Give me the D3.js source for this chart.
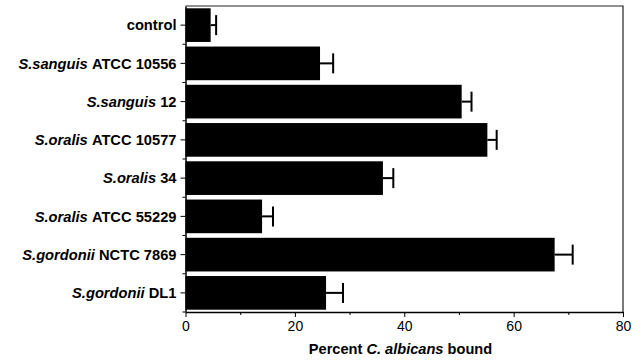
<!DOCTYPE html>
<html>
<head>
<meta charset="utf-8">
<style>
  body { margin: 0; background: #fff; }
  svg { display: block; font-family: "Liberation Sans", Arial, sans-serif; }
</style>
</head>
<body>
<svg width="642" height="360"></svg>
<script src="https://d3js.org/d3.v7.min.js"></script>
<script>

// species part (italic) and strain part (upright) of each label
var species = ["", "S.sanguis", "S.sanguis", "S.oralis", "S.oralis", "S.oralis", "S.gordonii", "S.gordonii"];
var strains = ["control", "ATCC 10556", "12", "ATCC 10577", "34", "ATCC 55229", "NCTC 7869", "DL1"];
var means = [4.6, 24.6, 50.5, 55.2, 36.1, 14.0, 67.5, 25.7];
var errTop = [5.6, 27.0, 52.3, 56.9, 38.0, 16.0, 70.8, 28.8];
var xTicks = [0, 20, 40, 60, 80];

var svg = d3.select("svg"),
    margin = {top: 6, right: 19, bottom: 48, left: 185.5},
    width = +svg.attr("width") - margin.left - margin.right,
    height = +svg.attr("height") - margin.top - margin.bottom;

var g = svg.append("g").attr("transform", "translate(" + margin.left + "," + margin.top + ")");

var x = d3.scaleLinear().domain([0, 80]).range([0, width]);
var y = d3.scaleBand().domain(d3.range(strains.length)).range([0, height]).paddingInner(0.12).paddingOuter(0.06);

// frame top/right
g.append("path")
    .attr("d", "M0,0H" + width + "V" + height)
    .attr("fill", "none")
    .attr("stroke", "#222")
    .attr("stroke-width", 1.2);

// bars
g.selectAll(".bar")
  .data(means)
  .enter().append("rect")
    .attr("class", "bar")
    .attr("x", 0)
    .attr("y", function(d, i) { return y(i); })
    .attr("width", function(d) { return x(d); })
    .attr("height", y.bandwidth())
    .attr("fill", "#000");

// error bars (upper side only)
var eb = g.selectAll(".err")
  .data(errTop)
  .enter().append("g")
    .attr("class", "err")
    .attr("stroke", "#000")
    .attr("stroke-width", 2);

eb.append("line")
    .attr("x1", function(d, i) { return x(means[i]); })
    .attr("x2", function(d) { return x(d); })
    .attr("y1", function(d, i) { return y(i) + y.bandwidth() / 2; })
    .attr("y2", function(d, i) { return y(i) + y.bandwidth() / 2; });

eb.append("line")
    .attr("x1", function(d) { return x(d); })
    .attr("x2", function(d) { return x(d); })
    .attr("y1", function(d, i) { return y(i) + y.bandwidth() / 2 - 10; })
    .attr("y2", function(d, i) { return y(i) + y.bandwidth() / 2 + 10; });

// x axis
var xAxis = g.append("g")
    .attr("transform", "translate(0," + height + ")")
    .call(d3.axisBottom(x).tickValues(xTicks).tickSize(5).tickPadding(4).tickSizeOuter(0));
xAxis.selectAll("text").attr("font-size", 14).attr("fill", "#000").attr("font-family", "Liberation Sans, Arial, sans-serif");
xAxis.select(".domain").attr("stroke-width", 1.5);

g.append("g")
    .attr("transform", "translate(0," + height + ")")
    .call(d3.axisBottom(x).tickValues(d3.range(10, 80, 20)).tickSize(3).tickFormat(""))
    .select(".domain").remove();

// y axis
var yAxis = g.append("g")
    .call(d3.axisLeft(y).tickSize(5).tickPadding(4).tickSizeOuter(0).tickFormat(""));
yAxis.select(".domain").attr("stroke-width", 1.5);

// minor ticks between bands
var step = y.step();
g.selectAll(".ymin")
  .data(d3.range(1, strains.length + 1))
  .enter().append("line")
    .attr("x1", -3).attr("x2", 0)
    .attr("y1", function(d) { return y(d - 1) + y.bandwidth() + (step - y.bandwidth()) / 2; })
    .attr("y2", function(d) { return y(d - 1) + y.bandwidth() + (step - y.bandwidth()) / 2; })
    .attr("stroke", "#000");

// category labels
var lab = g.selectAll(".lab")
  .data(strains)
  .enter().append("text")
    .attr("class", "lab")
    .attr("x", -9)
    .attr("y", function(d, i) { return y(i) + y.bandwidth() / 2; })
    .attr("dy", "0.36em")
    .attr("text-anchor", "end")
    .attr("font-size", 14.7)
    .attr("font-weight", "bold");

lab.append("tspan")
    .attr("font-style", "italic")
    .text(function(d, i) { return species[i] ? species[i] + " " : ""; });
lab.append("tspan")
    .text(function(d) { return d; });

// x title
var title = svg.append("text")
    .attr("x", 400.5)
    .attr("y", 354)
    .attr("text-anchor", "middle")
    .attr("font-size", 14.6)
    .attr("font-weight", "bold");
title.append("tspan").text("Percent ");
title.append("tspan").attr("font-style", "italic").text("C. albicans");
title.append("tspan").text(" bound");

</script>
</body>
</html>
